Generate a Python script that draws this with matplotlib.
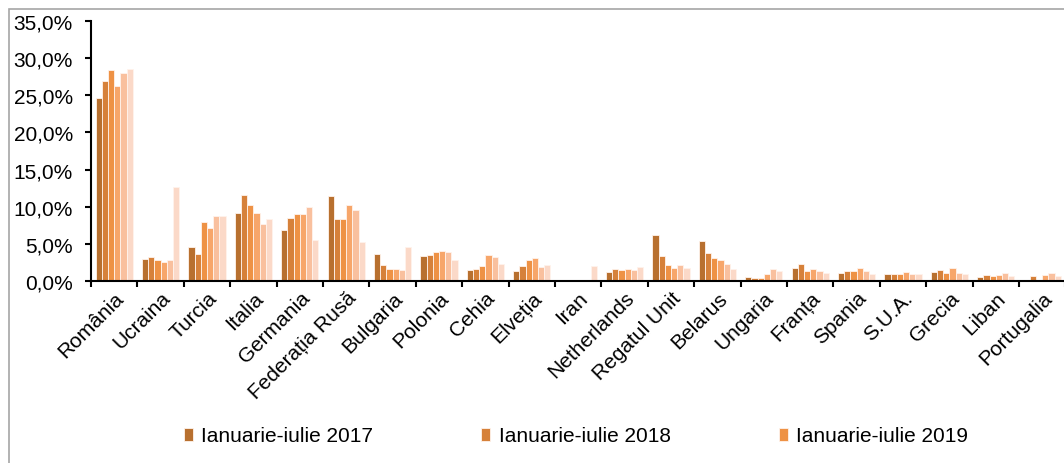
import matplotlib
matplotlib.use("Agg")
import matplotlib.pyplot as plt
import matplotlib.ticker as ticker
import matplotlib.patches as mpatches
import numpy as np

plt.rcParams["font.family"] = ["Liberation Sans", "DejaVu Sans"]

countries = ["România", "Ucraina", "Turcia", "Italia", "Germania", "Federația Rusă",
             "Bulgaria", "Polonia", "Cehia", "Elveția", "Iran", "Netherlands",
             "Regatul Unit", "Belarus", "Ungaria", "Franța", "Spania", "S.U.A.",
             "Grecia", "Liban", "Portugalia"]

series_names = ["Ianuarie-iulie 2017", "Ianuarie-iulie 2018", "Ianuarie-iulie 2019",
                "Ianuarie-iulie 2020", "Ianuarie-iulie 2021", "Ianuarie-iulie 2022"]

s1 = [24.6, 2.96, 4.6, 9.15, 6.8, 11.4, 3.7, 3.3, 1.5, 1.3, 0.0, 1.17, 6.2, 5.4, 0.5, 1.75, 1.1, 0.9, 1.2, 0.54, 0.0]
s2 = [26.9, 3.2, 3.6, 11.6, 8.5, 8.35, 2.15, 3.55, 1.66, 2.0, 0.0, 1.57, 3.36, 3.77, 0.36, 2.3, 1.35, 0.9, 1.48, 0.76, 0.67]
s3 = [28.4, 2.78, 8.0, 10.2, 9.0, 8.4, 1.57, 3.9, 1.97, 2.83, 0.0, 1.48, 2.1, 3.1, 0.36, 1.4, 1.35, 0.9, 1.12, 0.63, 0.0]
s4 = [26.3, 2.56, 7.1, 9.2, 9.0, 10.2, 1.57, 4.04, 3.5, 3.1, 0.0, 1.6, 1.75, 2.83, 0.94, 1.57, 1.75, 1.2, 1.75, 0.8, 0.76]
s5 = [27.95, 2.83, 8.7, 7.67, 9.96, 9.6, 1.48, 3.9, 3.23, 1.84, 0.0, 1.48, 2.2, 2.33, 1.57, 1.4, 1.35, 0.94, 1.08, 1.03, 1.12]
s6 = [28.5, 12.6, 8.8, 8.34, 5.5, 5.2, 4.6, 2.83, 2.24, 2.2, 2.0, 1.88, 1.75, 1.57, 1.35, 1.08, 0.99, 0.99, 0.94, 0.67, 0.67]

colors = ["#B8702F", "#D6813A", "#EE9245", "#F7A66A", "#F9C09E", "#FBD9C8"]

fig = plt.figure(figsize=(10.64, 4.64), dpi=100)
ax = fig.add_axes([91 / 1064, 1 - 282 / 464, 974.4 / 1064, 260 / 464])

x = np.arange(len(countries))
bw = 0.133
handles = []
for k, (vals, col, name) in enumerate(zip([s1, s2, s3, s4, s5, s6], colors, series_names)):
    b = ax.bar(x + (k - 2.5) * bw, vals, width=bw, color=col, edgecolor="#FFF3EC",
               linewidth=0.6, label=name, zorder=2)
    handles.append(b)

ax.set_xlim(-0.5, len(countries) - 0.5)
ax.set_ylim(0, 35)
ax.yaxis.set_major_locator(ticker.MultipleLocator(5))
ax.yaxis.set_major_formatter(ticker.FuncFormatter(lambda v, p: f"{v:.1f}%".replace(".", ",")))

ax.set_xticks(x)
ax.set_xticklabels(countries, rotation=45, ha="right", rotation_mode="anchor", fontsize=15)
ax.set_xticks(np.arange(-0.5, len(countries)), minor=True)
ax.tick_params(axis="x", which="major", length=0, pad=5)
ax.tick_params(axis="x", which="minor", length=4, width=1.5, direction="out")
ax.tick_params(axis="y", length=4, width=1.5, direction="out", labelsize=15, pad=9)

for s in ["top", "right"]:
    ax.spines[s].set_visible(False)
ax.spines["left"].set_linewidth(1.5)
ax.spines["bottom"].set_linewidth(1.5)

leg = fig.legend(handles=handles[:3], labels=series_names[:3], loc="center",
                 bbox_to_anchor=(576 / 1064, 1 - 437 / 464), ncol=3, frameon=False,
                 fontsize=15, handlelength=0.42, handleheight=0.6, handletextpad=0.4,
                 columnspacing=5.2)

# outer chart-area border (only left and top visible in the crop)
fig.patches.append(mpatches.Rectangle((9 / 1064, -0.1), 1.2, 1 - 10 / 464 + 0.1,
                                      transform=fig.transFigure, fill=False,
                                      edgecolor="#A6A6A6", linewidth=1.2))

fig.savefig("out.png", dpi=100)
